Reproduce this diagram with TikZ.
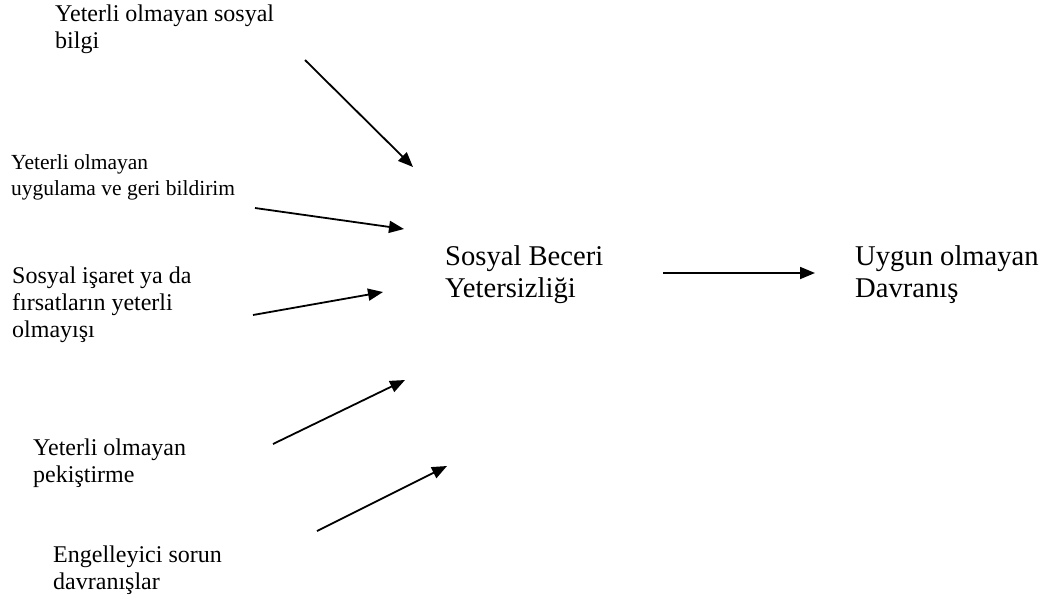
\documentclass[tikz,border=0pt]{standalone}
\usepackage{fontspec}
\setmainfont{Liberation Serif}
\usetikzlibrary{arrows.meta}
\begin{document}
\begin{tikzpicture}[x=1pt,y=-1pt,
  lbl/.style={inner sep=0pt,anchor=north west,align=left},
  mid/.style={lbl,font=\fontsize{24}{27}\selectfont},
  small/.style={lbl,font=\fontsize{21.5}{25.5}\selectfont},
  big/.style={lbl,font=\fontsize{28.6}{32}\selectfont},
  conn/.style={line width=1.8pt,-{Triangle[length=15pt,width=12pt]}}]
\useasboundingbox[fill=white] (0,0) rectangle (1048,600);
\node[mid] (info) at (55,4.5) {Yeterli olmayan sosyal\\bilgi};
\node[small] (feed) at (11,154.5) {Yeterli olmayan\\uygulama ve geri bildirim};
\node[mid] (cue) at (12,266.5) {Sosyal işaret ya da\\fırsatların yeterli\\olmayışı};
\node[mid] (reinf) at (33,438.5) {Yeterli olmayan\\pekiştirme};
\node[mid] (block) at (53,545.5) {Engelleyici sorun\\davranışlar};
\node[big] (deficit) at (445,245.5) {Sosyal Beceri\\Yetersizliği};
\node[big] (behav) at (855,245.5) {Uygun olmayan\\Davranış};
\coordinate (a1s) at (305,60);  \coordinate (a1e) at (413,167);
\coordinate (a2s) at (255,208); \coordinate (a2e) at (404,229);
\coordinate (a3s) at (253,315); \coordinate (a3e) at (383,292);
\coordinate (a4s) at (273,444); \coordinate (a4e) at (405,380);
\coordinate (a5s) at (317,531); \coordinate (a5e) at (447,466);
\coordinate (a6s) at (663,273); \coordinate (a6e) at (815,273);
\draw[conn] (a1s) -- (a1e);
\draw[conn] (a2s) -- (a2e);
\draw[conn] (a3s) -- (a3e);
\draw[conn] (a4s) -- (a4e);
\draw[conn] (a5s) -- (a5e);
\draw[conn] (a6s) -- (a6e);
\end{tikzpicture}
\end{document}
